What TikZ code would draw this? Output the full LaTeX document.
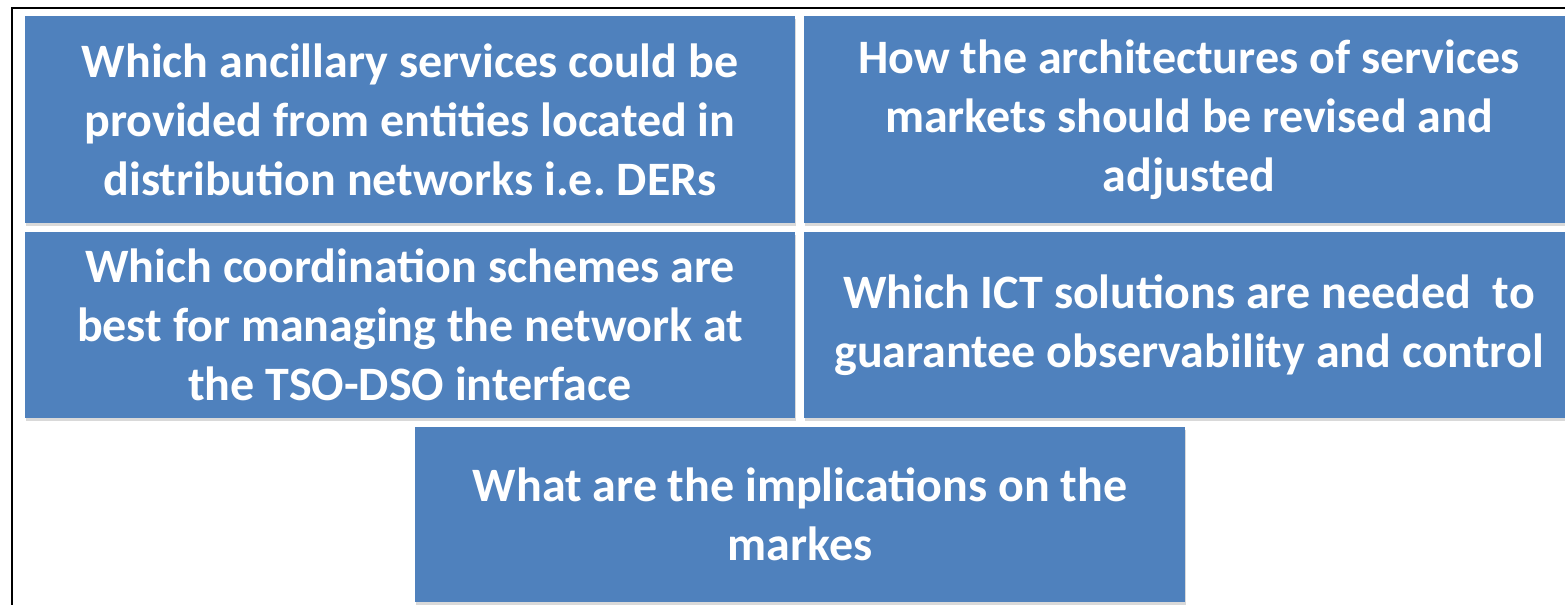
\documentclass[tikz,border=0pt]{standalone}
\usepackage{fontspec}
\newfontfamily\qfont{Carlito}
\usetikzlibrary{shadows}

\definecolor{qblue}{RGB}{79,129,189}

\begin{document}
\begin{tikzpicture}[x=0.5pt, y=-0.5pt,
  question/.style={fill=qblue, text=white, align=center, inner sep=0pt,
    font=\qfont\bfseries\fontsize{24}{29.5}\selectfont,
    minimum width=385pt,
    drop shadow={shadow xshift=0.4pt, shadow yshift=-1.6pt, opacity=0.3}},
  tall/.style={minimum height=103.5pt},
  mid/.style={minimum height=93pt},
  low/.style={minimum height=87.5pt}]

  \useasboundingbox (0,0) rectangle (1565,605);

  % outer frame, cut by the page on the right and below
  \begin{scope}
    \clip (0,0) rectangle (1565,605);
    \draw[line width=1pt] (11.5,7.5) rectangle (1590,620);
  \end{scope}

  % upper row
  \node[question, tall] (ancillary) at (410,119.5)
    {Which ancillary services could be\\provided from entities located in\\distribution networks i.e.\ DERs};
  \node[question, tall] (markets) at (1189,119.5)
    {How the architectures of services\\markets should be revised and\\adjusted};

  % middle row
  \node[question, mid] (coordination) at (410,325)
    {Which coordination schemes are\\best for managing the network at\\the TSO-DSO interface};
  \node[question, mid] (ict) at (1189,325)
    {Which ICT solutions are needed~ to\\guarantee observability and control};

  % lower row
  \node[question, low] (implications) at (800,514.5)
    {What are the implications on the\\markes};

\end{tikzpicture}
\end{document}
